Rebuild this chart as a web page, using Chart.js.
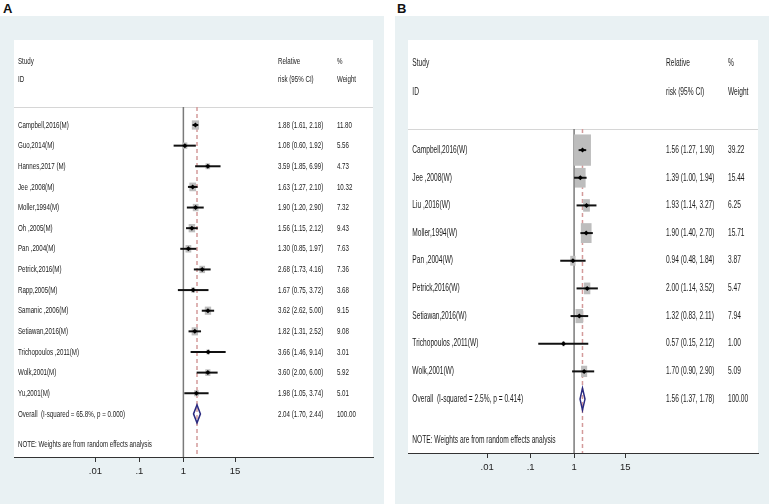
<!DOCTYPE html>
<html>
<head>
<meta charset="utf-8">
<script src="https://cdn.jsdelivr.net/npm/chart.js@4"></script>
<style>
  html, body { margin:0; padding:0; background:#ffffff; }
  body { width:769px; height:504px; position:relative; overflow:hidden; }
  .lbl { position:absolute; font:bold 13px "Liberation Sans", Arial, sans-serif; line-height:13px; color:#111; }
  canvas { position:absolute; }
</style>
</head>
<body>
<div class="lbl" style="left:3px;top:2px;">A</div>
<div class="lbl" style="left:397px;top:2px;">B</div>
<canvas id="cA" width="384" height="488" style="left:0px;top:16px;width:384px;height:488px;"></canvas>
<canvas id="cB" width="374" height="488" style="left:395px;top:16px;width:374px;height:488px;"></canvas>
<script>
// ---------- shared axis ----------
const tickVals = [0.01, 0.1, 1, 15];
const tickLabels = ['.01', '.1', '1', '15'];

// ---------- Panel A (M) ----------
const studiesA = ['Campbell,2016(M)', 'Guo,2014(M)', 'Hannes,2017 (M)', 'Jee ,2008(M)', 'Moller,1994(M)',
  'Oh ,2005(M)', 'Pan ,2004(M)', 'Petrick,2016(M)', 'Rapp,2005(M)', 'Samanic ,2006(M)',
  'Setiawan,2016(M)', 'Trichopoulos ,2011(M)', 'Wolk,2001(M)', 'Yu,2001(M)'];
const rrA = [1.88, 1.08, 3.59, 1.63, 1.90, 1.56, 1.30, 2.68, 1.67, 3.62, 1.82, 3.66, 3.60, 1.98];
const loA = [1.61, 0.60, 1.85, 1.27, 1.20, 1.15, 0.85, 1.73, 0.75, 2.62, 1.31, 1.46, 2.00, 1.05];
const hiA = [2.18, 1.92, 6.99, 2.10, 2.90, 2.12, 1.97, 4.16, 3.72, 5.00, 2.52, 9.14, 6.00, 3.74];
const wA  = [11.80, 5.56, 4.73, 10.32, 7.32, 9.43, 7.63, 7.36, 3.68, 9.15, 9.08, 3.01, 5.92, 5.01];
const overallLabelA = 'Overall  (I-squared = 65.8%, p = 0.000)';
const overallA = [2.04, 1.70, 2.44, 100.00];

// ---------- Panel B (W) ----------
const studiesB = ['Campbell,2016(W)', 'Jee ,2008(W)', 'Liu ,2016(W)', 'Moller,1994(W)', 'Pan ,2004(W)',
  'Petrick,2016(W)', 'Setiawan,2016(W)', 'Trichopoulos ,2011(W)', 'Wolk,2001(W)'];
const rrB = [1.56, 1.39, 1.93, 1.90, 0.94, 2.00, 1.32, 0.57, 1.70];
const loB = [1.27, 1.00, 1.14, 1.40, 0.48, 1.14, 0.83, 0.15, 0.90];
const hiB = [1.90, 1.94, 3.27, 2.70, 1.84, 3.52, 2.11, 2.12, 2.90];
const wB  = [39.22, 15.44, 6.25, 15.71, 3.87, 5.47, 7.94, 1.00, 5.09];
const overallLabelB = 'Overall  (I-squared = 2.5%, p = 0.414)';
const overallB = [1.56, 1.37, 1.78, 100.00];

const headerTexts = [['Study', 'Relative', '%'], ['ID', 'risk (95% CI)', 'Weight']];
const noteText = 'NOTE: Weights are from random effects analysis';

const BG = '#e9f1f3';

function fmt(v) { return v.toFixed(2); }

function makePanel(id, d, lay) {
  const n = d.studies.length;
  const forest = {
    id: 'forest' + id,
    beforeDraw(chart) {
      const c = chart.ctx, a = chart.chartArea;
      c.save();
      c.fillStyle = BG;
      c.fillRect(0, 0, chart.width, chart.height);
      c.fillStyle = '#ffffff';
      c.fillRect(a.left, a.top, a.right - a.left, a.bottom - a.top);
      c.restore();
    },
    beforeDatasetsDraw(chart) {
      const c = chart.ctx, a = chart.chartArea;
      const xs = chart.scales.x, ys = chart.scales.y;
      const ySep = ys.getPixelForValue(lay.sepRow);
      c.save();
      // separator
      c.strokeStyle = '#d6d6d6'; c.lineWidth = 1;
      c.beginPath(); c.moveTo(a.left, Math.round(ySep) + 0.5); c.lineTo(a.right, Math.round(ySep) + 0.5); c.stroke();
      // null line
      const x1 = xs.getPixelForValue(1);
      c.strokeStyle = '#7a7a7a'; c.lineWidth = 1.5;
      c.beginPath(); c.moveTo(x1, ySep); c.lineTo(x1, a.bottom); c.stroke();
      // overall dashed line
      const xo = xs.getPixelForValue(d.overall[0]);
      c.strokeStyle = '#d49a9a'; c.lineWidth = 1.5; c.setLineDash([4, 3]);
      c.beginPath(); c.moveTo(xo, ySep); c.lineTo(xo, a.bottom); c.stroke();
      c.setLineDash([]);
      // boxes
      for (let i = 0; i < n; i++) {
        const px = xs.getPixelForValue(d.rr[i]), py = ys.getPixelForValue(i);
        const s = Math.sqrt(d.w[i]);
        const bw = s * lay.boxW, bh = s * lay.boxH;
        c.fillStyle = '#bdbdbd';
        c.fillRect(px - bw / 2, py - bh / 2, bw, bh);
      }
      // CI lines
      c.strokeStyle = '#111'; c.lineWidth = lay.ciW;
      for (let i = 0; i < n; i++) {
        const py = ys.getPixelForValue(i);
        c.beginPath();
        c.moveTo(xs.getPixelForValue(d.lo[i]), py);
        c.lineTo(xs.getPixelForValue(d.hi[i]), py);
        c.stroke();
      }
      // diamond
      const yo = ys.getPixelForValue(n);
      c.strokeStyle = '#2a2a80'; c.lineWidth = 1.5;
      c.beginPath();
      c.moveTo(xs.getPixelForValue(d.overall[1]), yo);
      c.lineTo(xo, yo - lay.diaH);
      c.lineTo(xs.getPixelForValue(d.overall[2]), yo);
      c.lineTo(xo, yo + lay.diaH);
      c.closePath(); c.stroke();
      // texts
      c.fillStyle = '#1a1a1a';
      c.font = lay.fontSize + 'px "Liberation Sans", Arial, sans-serif';
      c.textBaseline = 'middle'; c.textAlign = 'left';
      const tx = (s, xv, yv) => {
        c.save();
        c.translate(xs.getPixelForValue(xv), ys.getPixelForValue(yv));
        c.scale(lay.sx, 1);
        c.fillText(s, 0, 0);
        c.restore();
      };
      const cols = [lay.colStudy, lay.colEst, lay.colW];
      headerTexts.forEach((row, r) => row.forEach((s, k) => tx(s, cols[k], lay.headRows[r])));
      for (let i = 0; i < n; i++) {
        tx(d.studies[i], lay.colStudy, i);
        tx(fmt(d.rr[i]) + ' (' + fmt(d.lo[i]) + ', ' + fmt(d.hi[i]) + ')', lay.colEst, i);
        tx(fmt(d.w[i]), lay.colW, i);
      }
      tx(d.overallLabel, lay.colStudy, n);
      tx(fmt(d.overall[0]) + ' (' + fmt(d.overall[1]) + ', ' + fmt(d.overall[2]) + ')', lay.colEst, n);
      tx(fmt(d.overall[3]), lay.colW, n);
      tx(noteText, lay.colStudy, lay.noteRow);
      c.restore();
    }
  };

  return new Chart(document.getElementById(id), {
    type: 'scatter',
    data: {
      datasets: [{
        data: d.rr.map((v, i) => ({ x: v, y: i })),
        pointStyle: 'rectRot', pointRadius: lay.ptR, pointHoverRadius: lay.ptR,
        backgroundColor: '#000', borderColor: '#000', borderWidth: 0
      }]
    },
    options: {
      responsive: false, animation: false, maintainAspectRatio: false,
      layout: { padding: lay.pad },
      plugins: { legend: { display: false }, tooltip: { enabled: false } },
      scales: {
        x: {
          type: 'logarithmic', bounds: 'data',
          min: lay.xMin, max: lay.xMax,
          afterBuildTicks: s => { s.ticks = tickVals.map(v => ({ value: v })); },
          afterFit: s => { s.height = lay.axisH; },
          ticks: {
            autoSkip: false, maxRotation: 0, padding: 4, color: '#222',
            font: { family: '"Liberation Sans Narrow", "Liberation Sans", Arial, sans-serif', size: 9.5 },
            callback: (v, i) => tickLabels[i]
          },
          grid: { drawOnChartArea: false, tickLength: 5, color: '#333', lineWidth: 1 },
          border: { color: '#333', width: 1 }
        },
        y: {
          type: 'linear', reverse: true, bounds: 'data', display: false,
          min: lay.yMin, max: lay.yMax
        }
      }
    },
    plugins: [forest]
  });
}

makePanel('cA',
  { studies: studiesA, rr: rrA, lo: loA, hi: hiA, w: wA, overallLabel: overallLabelA, overall: overallA },
  { pad: { left: 14, right: 11, top: 24, bottom: 0 }, axisH: 47,
    xMin: Math.pow(10, -3.85), xMax: Math.pow(10, 4.31),
    yMin: -4.12, yMax: 16.09, sepRow: -0.87, headRows: [-3.1, -2.23], noteRow: 15.5,
    colStudy: Math.pow(10, -3.76), colEst: Math.pow(10, 2.15), colW: Math.pow(10, 3.49),
    boxW: 2.1, boxH: 2.7, ciW: 2, diaH: 9, ptR: 2.5, fontSize: 9.5, sx: 0.65 });

makePanel('cB',
  { studies: studiesB, rr: rrB, lo: loB, hi: hiB, w: wB, overallLabel: overallLabelB, overall: overallB },
  { pad: { left: 13, right: 11, top: 24, bottom: 0 }, axisH: 51,
    xMin: Math.pow(10, -3.82), xMax: Math.pow(10, 4.23),
    yMin: -3.98, yMax: 10.95, sepRow: -0.76, headRows: [-3.14, -2.1], noteRow: 10.48,
    colStudy: Math.pow(10, -3.72), colEst: Math.pow(10, 2.115), colW: Math.pow(10, 3.54),
    boxW: 2.7, boxH: 5.0, ciW: 2, diaH: 11, ptR: 2.5, fontSize: 10, sx: 0.66 });
</script>
</body>
</html>
